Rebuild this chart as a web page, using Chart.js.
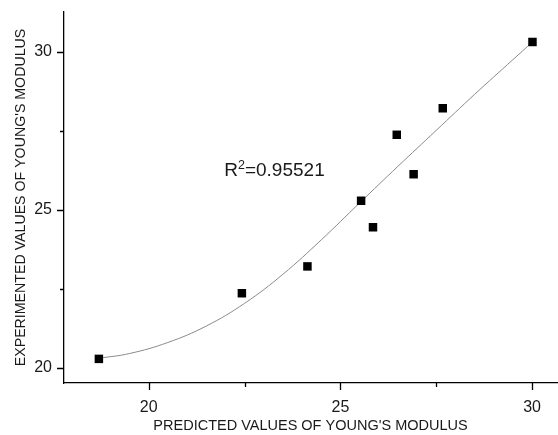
<!DOCTYPE html>
<html>
<head>
<meta charset="utf-8">
<script src="https://cdn.jsdelivr.net/npm/chart.js@4"></script>
<style>
  html, body { margin: 0; padding: 0; background: #fff; overflow: hidden; }
  #wrap { width: 558px; height: 435px; position: relative; }
</style>
</head>
<body>
<div id="wrap"><canvas id="chart" width="558" height="435"></canvas></div>
<script>
// Predicted vs. experimental Young's modulus
const predicted    = [18.70, 22.43, 24.14, 25.54, 25.85, 26.47, 26.91, 27.67, 30.01];
const experimented = [20.28, 22.36, 23.21, 25.29, 24.45, 27.38, 26.13, 28.22, 30.32];

// Fitted trend curve, sampled along the predicted range
const fitX = [18.70, 19.50, 20.50, 21.50, 22.50, 23.50, 24.50, 25.50, 26.50, 27.50, 28.50, 29.50, 30.01];
const fitY = [20.30, 20.45, 20.80, 21.32, 22.04, 22.96, 24.05, 25.22, 26.38, 27.52, 28.66, 29.76, 30.32];

// Axis ticks
const xMajorTicks = [20, 25, 30];
const xMinorTicks = [22.5, 27.5];
const yMajorTicks = [20, 25, 30];
const yMinorTicks = [22.5, 27.5];

const rSquaredText = '0.95521';

const FONT = '"Liberation Sans", Arial, Helvetica, sans-serif';

// Outward tick marks: long for major, short for minor
const tickMarks = {
  id: 'tickMarks',
  afterDraw(chart) {
    const ctx = chart.ctx;
    const xs = chart.scales.x, ys = chart.scales.y;
    ctx.save();
    ctx.strokeStyle = '#000';
    ctx.lineWidth = 1.3;
    ctx.beginPath();
    const xTick = (v, len) => {
      const p = Math.round(xs.getPixelForValue(v)) + 0.5;
      ctx.moveTo(p, xs.top);
      ctx.lineTo(p, xs.top + len);
    };
    const yTick = (v, len) => {
      const p = Math.round(ys.getPixelForValue(v)) + 0.5;
      ctx.moveTo(ys.right, p);
      ctx.lineTo(ys.right - len, p);
    };
    xMajorTicks.forEach(v => xTick(v, 7));
    xMinorTicks.forEach(v => xTick(v, 4));
    yMajorTicks.forEach(v => yTick(v, 7));
    yMinorTicks.forEach(v => yTick(v, 4));
    ctx.stroke();
    ctx.restore();
  }
};

// Goodness-of-fit annotation
const rSquaredLabel = {
  id: 'rSquaredLabel',
  afterDraw(chart) {
    const ctx = chart.ctx;
    const xs = chart.scales.x, ys = chart.scales.y;
    let x = xs.getPixelForValue(21.97);
    const y = ys.getPixelForValue(26.08);
    ctx.save();
    ctx.fillStyle = '#1a1a1a';
    ctx.textBaseline = 'alphabetic';
    ctx.textAlign = 'left';
    ctx.font = '19px ' + FONT;
    ctx.fillText('R', x, y);
    x += ctx.measureText('R').width;
    ctx.font = '12.5px ' + FONT;
    ctx.fillText('2', x, y - 6.5);
    x += ctx.measureText('2').width;
    ctx.font = '19px ' + FONT;
    ctx.fillText('=' + rSquaredText, x, y);
    ctx.restore();
  }
};

// Keep the plot frame fixed: no extra room reserved for edge labels
const noEdgePadding = s => {
  s.paddingTop = 0; s.paddingBottom = 0; s.paddingLeft = 0; s.paddingRight = 0;
};

new Chart(document.getElementById('chart'), {
  type: 'scatter',
  data: {
    datasets: [
      {
        label: 'Samples',
        data: predicted.map((v, i) => ({ x: v, y: experimented[i] })),
        pointStyle: 'rect',
        pointRadius: 6,
        pointHoverRadius: 6,
        pointBorderWidth: 0,
        backgroundColor: '#000',
        borderColor: '#000',
        order: 0
      },
      {
        label: 'Fit',
        data: fitX.map((v, i) => ({ x: v, y: fitY[i] })),
        showLine: true,
        pointRadius: 0,
        borderColor: '#8a8a8a',
        borderWidth: 1,
        tension: 0.4,
        fill: false,
        order: 1
      }
    ]
  },
  options: {
    responsive: false,
    animation: false,
    events: [],
    layout: { autoPadding: false, padding: { top: 12, right: 1, left: 0, bottom: 0 } },
    plugins: {
      legend: { display: false },
      tooltip: { enabled: false }
    },
    scales: {
      x: {
        type: 'linear',
        min: 17.79,
        max: 30.65,
        afterBuildTicks: s => { s.ticks = xMajorTicks.map(v => ({ value: v })); },
        afterFit: s => { s.height = 52; noEdgePadding(s); },
        grid: { display: false, drawTicks: false },
        border: { display: true, color: '#000', width: 1.3 },
        ticks: {
          padding: 15,
          color: '#1a1a1a',
          font: { family: FONT, size: 16 },
          maxRotation: 0,
          callback: v => String(v)
        },
        title: {
          display: true,
          text: "PREDICTED VALUES OF YOUNG'S MODULUS",
          color: '#1a1a1a',
          font: { family: FONT, size: 14.5 },
          padding: { top: 0, bottom: 0 }
        }
      },
      y: {
        type: 'linear',
        min: 19.516,
        max: 31.27,
        afterBuildTicks: s => { s.ticks = yMajorTicks.map(v => ({ value: v })); },
        afterFit: s => { s.width = 64; noEdgePadding(s); },
        grid: { display: false, drawTicks: false },
        border: { display: true, color: '#000', width: 1.3 },
        ticks: {
          padding: 12,
          color: '#1a1a1a',
          font: { family: FONT, size: 16 },
          callback: v => String(v)
        },
        title: {
          display: true,
          text: "EXPERIMENTED VALUES OF YOUNG'S MODULUS",
          color: '#1a1a1a',
          font: { family: FONT, size: 14.2 },
          padding: { top: 12.5, bottom: 0 }
        }
      }
    }
  },
  plugins: [tickMarks, rSquaredLabel]
});
</script>
</body>
</html>
